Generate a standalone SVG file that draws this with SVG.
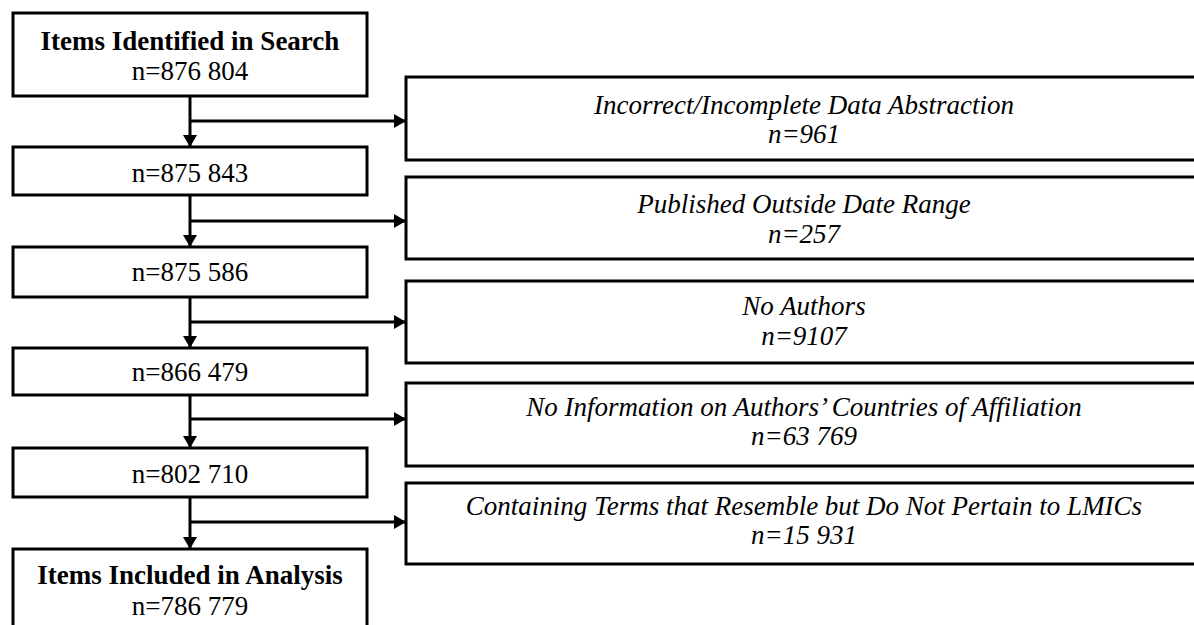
<svg xmlns="http://www.w3.org/2000/svg" width="1194" height="625" viewBox="0 0 1194 625">
<defs>
<marker id="ah" viewBox="0 0 12 14" refX="12" refY="7" markerWidth="12" markerHeight="14" markerUnits="userSpaceOnUse" orient="auto">
<path d="M0,0 L12,7 L0,14 Z" fill="#000"/>
</marker>
<style>
.box{fill:#fff;stroke:#000;stroke-width:3}
.t{font-family:"Liberation Serif","Times New Roman",serif;font-size:27px;fill:#000;text-anchor:middle}
.b{font-weight:bold}
.i{font-style:italic}
.c{fill:none;stroke:#000;stroke-width:3}
</style>
</defs>
<rect width="1194" height="625" fill="#fff"/>
<g id="connectors">
<line class="c" x1="190" y1="96" x2="190" y2="147" marker-end="url(#ah)"/>
<line class="c" x1="190" y1="121" x2="406" y2="121" marker-end="url(#ah)"/>
<line class="c" x1="190" y1="195" x2="190" y2="247" marker-end="url(#ah)"/>
<line class="c" x1="190" y1="221" x2="406" y2="221" marker-end="url(#ah)"/>
<line class="c" x1="190" y1="297" x2="190" y2="348" marker-end="url(#ah)"/>
<line class="c" x1="190" y1="322" x2="406" y2="322" marker-end="url(#ah)"/>
<line class="c" x1="190" y1="395" x2="190" y2="448" marker-end="url(#ah)"/>
<line class="c" x1="190" y1="419" x2="406" y2="419" marker-end="url(#ah)"/>
<line class="c" x1="190" y1="497" x2="190" y2="549" marker-end="url(#ah)"/>
<line class="c" x1="190" y1="522" x2="406" y2="522" marker-end="url(#ah)"/>
</g>
<g id="n1"><rect class="box" x="13" y="13" width="354" height="83"/><text class="t b" x="190" y="50">Items Identified in Search</text><text class="t" x="190" y="80">n=876 804</text></g>
<g id="n2"><rect class="box" x="13" y="147" width="354" height="48"/><text class="t" x="190" y="182">n=875 843</text></g>
<g id="n3"><rect class="box" x="13" y="247" width="354" height="50"/><text class="t" x="190" y="281">n=875 586</text></g>
<g id="n4"><rect class="box" x="13" y="348" width="354" height="47"/><text class="t" x="190" y="381">n=866 479</text></g>
<g id="n5"><rect class="box" x="13" y="448" width="354" height="49"/><text class="t" x="190" y="483">n=802 710</text></g>
<g id="n6"><rect class="box" x="13" y="549" width="354" height="90"/><text class="t b" x="190" y="584">Items Included in Analysis</text><text class="t" x="190" y="615">n=786 779</text></g>
<g id="e1"><rect class="box" x="406" y="77" width="800" height="83"/><text class="t i" x="804" y="114">Incorrect/Incomplete Data Abstraction</text><text class="t i" x="804" y="143">n=961</text></g>
<g id="e2"><rect class="box" x="406" y="177" width="800" height="82"/><text class="t i" x="804" y="213">Published Outside Date Range</text><text class="t i" x="804" y="243">n=257</text></g>
<g id="e3"><rect class="box" x="406" y="281" width="800" height="82"/><text class="t i" x="804" y="315">No Authors</text><text class="t i" x="804" y="345">n=9107</text></g>
<g id="e4"><rect class="box" x="406" y="383" width="800" height="83"/><text class="t i" x="804" y="416">No Information on Authors’ Countries of Affiliation</text><text class="t i" x="804" y="445">n=63 769</text></g>
<g id="e5"><rect class="box" x="406" y="483" width="800" height="81"/><text class="t i" x="804" y="515">Containing Terms that Resemble but Do Not Pertain to LMICs</text><text class="t i" x="804" y="544">n=15 931</text></g>
</svg>
